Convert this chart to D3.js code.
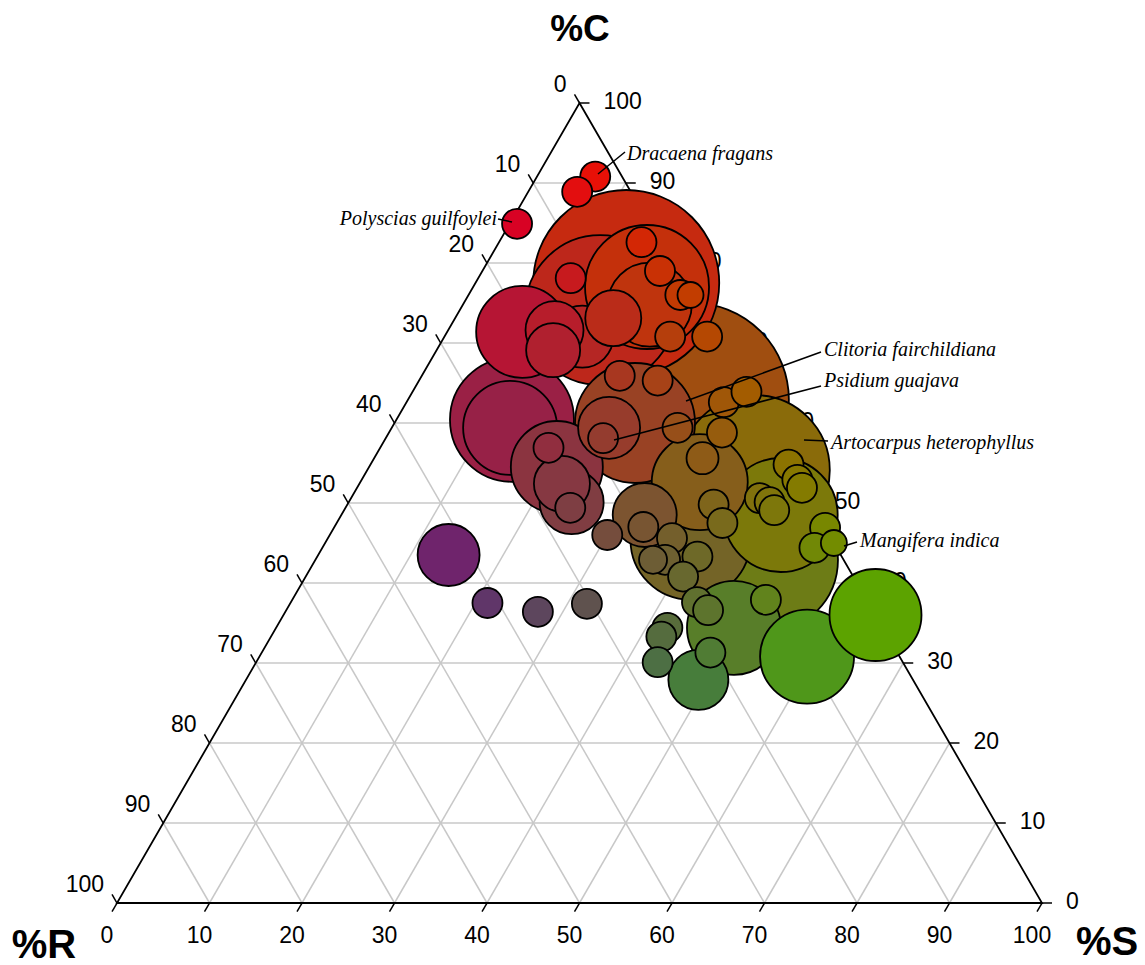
<!DOCTYPE html>
<html>
<head>
<meta charset="utf-8">
<script src="https://cdn.jsdelivr.net/npm/d3@7"></script>
<style>
  body { margin: 0; background: #fff; }
  svg { display: block; }
</style>
</head>
<body>
<div id="ternary"></div>
<script>
// CSR percentages per species (C = competitor, S = stress tolerator, R = ruderal)
const pctC = [90.8, 88.9, 84.9, 77.5, 77.0, 74.1, 74.8, 82.6, 78.1, 79.0, 76.0, 76.0,
  71.4, 71.6, 70.8, 73.1, 69.1, 70.8, 70.8, 62.9, 60.0, 59.4, 58.1, 65.9, 65.3, 59.4,
  62.6, 63.9, 58.8, 55.6, 60.4, 59.4, 56.9, 54.5, 52.4, 50.1, 49.4, 54.1, 52.6, 49.8,
  47.5, 45.4, 48.5, 47.0, 45.6, 43.3, 42.9, 42.9, 40.8, 46.0, 48.5, 42.9, 54.8, 52.9,
  51.9, 50.6, 50.1, 49.1, 46.9, 44.4, 45.0, 43.5, 37.5, 36.4, 37.4, 34.4, 33.3, 30.1,
  27.9, 31.3, 34.4, 37.6, 36.6, 37.9, 30.8, 36.0];
const pctS = [6.3, 5.3, 0.8, 16.3, 18.8, 15.2, 20.2, 15.4, 10.0, 19.2, 22.9, 24.0,
  8.1, 11.5, 14.9, 17.1, 12.6, 24.4, 28.4, 30.7, 26.0, 23.5, 23.5, 21.4, 25.8, 30.9,
  34.3, 36.1, 36.0, 35.5, 12.5, 12.8, 18.2, 20.3, 21.9, 24.1, 24.3, 41.9, 36.7, 39.6,
  41.7, 39.3, 32.8, 33.4, 37.2, 41.1, 37.8, 36.5, 40.8, 30.0, 47.5, 48.6, 45.2, 47.1,
  48.1, 44.2, 45.5, 46.5, 53.1, 53.2, 55.0, 14.1, 21.3, 27.3, 32.1, 42.3, 42.2, 43.4,
  48.9, 48.5, 49.5, 43.9, 45.6, 51.2, 59.2, 64.0];
const pctR = [2.9, 5.8, 14.3, 6.2, 4.2, 10.7, 5.0, 2.0, 11.9, 1.8, 1.1, 0.0,
  20.5, 16.9, 14.3, 9.8, 18.3, 4.8, 0.8, 6.4, 14.0, 17.1, 18.4, 12.7, 8.9, 9.7,
  3.1, 0.0, 5.2, 8.9, 27.1, 27.8, 24.9, 25.2, 25.7, 25.8, 26.3, 4.0, 10.7, 10.6,
  10.8, 15.3, 18.7, 19.6, 17.2, 15.6, 19.3, 20.6, 18.4, 24.0, 4.0, 8.5, 0.0, 0.0,
  0.0, 5.2, 4.4, 4.4, 0.0, 2.4, 0.0, 42.4, 41.2, 36.3, 30.5, 23.3, 24.5, 26.5,
  23.2, 20.2, 16.1, 18.5, 17.8, 10.9, 10.0, 0.0];
// relative abundance (bubble size)
const abundance = [15, 15, 15, 93, 62, 75, 42, 15, 15, 15, 15, 13,
  46, 29, 31, 28, 27, 15, 15, 97, 60, 31, 15, 15, 15, 15,
  15, 15, 15, 16, 62, 47, 15, 46, 28, 32, 15, 75, 48, 15,
  15, 60, 32, 15, 15, 15, 15, 14, 15, 15, 57, 73, 15, 15,
  15, 15, 15, 15, 15, 15, 13, 31, 15, 15, 15, 15, 15, 15,
  30, 15, 47, 15, 15, 15, 47, 46];

const tickValues = [0, 10, 20, 30, 40, 50, 60, 70, 80, 90, 100];

// labelled species: label position and leader end (pixels)
const annotations = [
  { name: "Dracaena fragans", lx: 627, ly: 155, anchor: "start", x1: 625, y1: 152, x2: 598, y2: 174 },
  { name: "Polyscias guilfoylei", lx: 497, ly: 220, anchor: "end", x1: 498, y1: 219, x2: 512, y2: 222 },
  { name: "Clitoria fairchildiana", lx: 824, ly: 351, anchor: "start", x1: 821, y1: 352, x2: 686, y2: 401 },
  { name: "Psidium guajava", lx: 824, ly: 382, anchor: "start", x1: 821, y1: 386, x2: 614, y2: 440 },
  { name: "Artocarpus heterophyllus", lx: 831, ly: 444, anchor: "start", x1: 828, y1: 441, x2: 804, y2: 440 },
  { name: "Mangifera indica", lx: 860, ly: 542, anchor: "start", x1: 857, y1: 542, x2: 844, y2: 546 }
];

const width = 1145, height = 965;

const svg = d3.select("#ternary")
  .append("svg")
  .attr("width", width)
  .attr("height", height)
  .attr("viewBox", [0, 0, width, height]);

// x runs along the base (S + C/2), y goes up with C
const x = d3.scaleLinear().domain([0, 100]).range([117, 1042]);
const y = d3.scaleLinear().domain([0, 100]).range([903, 103]);
const r = d3.scaleLinear().domain([0, 100]).range([0, 100]);

const pos = (c, s) => [x(s + c / 2), y(c)];

// grid
const grid = svg.append("g")
  .attr("stroke", "#c8c8c8")
  .attr("stroke-width", 1.5)
  .attr("fill", "none");

const inner = tickValues.filter(v => v > 0 && v < 100);
inner.forEach(v => {
  const segs = [
    [pos(v, 0), pos(v, 100 - v)],          // constant C
    [pos(0, v), pos(100 - v, v)],          // constant S
    [pos(0, 100 - v), pos(100 - v, 0)]     // constant R
  ];
  segs.forEach(s => {
    grid.append("line")
      .attr("x1", s[0][0]).attr("y1", s[0][1])
      .attr("x2", s[1][0]).attr("y2", s[1][1]);
  });
});

// triangle outline
const corners = [pos(100, 0), pos(0, 100), pos(0, 0)];
svg.append("path")
  .attr("d", d3.line()(corners) + "Z")
  .attr("fill", "none")
  .attr("stroke", "#000")
  .attr("stroke-width", 1.8);

// ticks + labels
const axes = svg.append("g")
  .attr("font-family", "'Liberation Sans', Arial, sans-serif")
  .attr("font-size", 23)
  .attr("fill", "#000");
const tk = 10;

tickValues.forEach(v => {
  // bottom axis (%S)
  let [bx, by] = pos(0, v);
  axes.append("line")
    .attr("x1", bx).attr("y1", by)
    .attr("x2", bx - tk * 0.5).attr("y2", by + tk * 0.866)
    .attr("stroke", "#000").attr("stroke-width", 1.5);
  axes.append("text")
    .attr("x", bx - 10).attr("y", by + 34)
    .attr("text-anchor", "middle")
    .attr("dominant-baseline", "middle")
    .text(v);

  // left axis (%R)
  let [lx, ly] = pos(100 - v, 0);
  axes.append("line")
    .attr("x1", lx).attr("y1", ly)
    .attr("x2", lx - tk * 0.5).attr("y2", ly - tk * 0.866)
    .attr("stroke", "#000").attr("stroke-width", 1.5);
  axes.append("text")
    .attr("x", lx - 13).attr("y", ly - 17)
    .attr("text-anchor", "end")
    .attr("dominant-baseline", "middle")
    .text(v);

  // right axis (%C)
  let [rx, ry] = pos(v, 100 - v);
  axes.append("line")
    .attr("x1", rx).attr("y1", ry)
    .attr("x2", rx + tk).attr("y2", ry)
    .attr("stroke", "#000").attr("stroke-width", 1.5);
  axes.append("text")
    .attr("x", rx + 24).attr("y", ry)
    .attr("text-anchor", "start")
    .attr("dominant-baseline", "middle")
    .text(v);
});

// corner titles
const titles = [
  { t: "%C", x: 580, y: 31, size: 37 },
  { t: "%R", x: 44, y: 947, size: 40 },
  { t: "%S", x: 1107, y: 944, size: 40 }
];
svg.selectAll(".title")
  .data(titles)
  .join("text")
  .attr("class", "title")
  .attr("x", d => d.x)
  .attr("y", d => d.y)
  .attr("text-anchor", "middle")
  .attr("dominant-baseline", "middle")
  .attr("font-family", "'Liberation Sans', Arial, sans-serif")
  .attr("font-weight", "bold")
  .attr("font-size", d => d.size)
  .text(d => d.t);

// bubbles, largest first so the small ones stay visible
const species = pctC.map((c, i) => ({ c: c, s: pctS[i], r: pctR[i], size: abundance[i] }))
  .sort((a, b) => b.size - a.size);

svg.append("g")
  .selectAll("circle")
  .data(species)
  .join("circle")
  .attr("cx", d => pos(d.c, d.s)[0])
  .attr("cy", d => pos(d.c, d.s)[1])
  .attr("r", d => r(d.size))
  .attr("fill", d => d3.rgb(d.c * 2.55, d.s * 2.55, d.r * 2.55))
  .attr("stroke", "#000")
  .attr("stroke-width", 1.8);

// species labels
const ann = svg.append("g");
annotations.forEach(a => {
  ann.append("line")
    .attr("x1", a.x1).attr("y1", a.y1)
    .attr("x2", a.x2).attr("y2", a.y2)
    .attr("stroke", "#000")
    .attr("stroke-width", 1.5);
  ann.append("text")
    .attr("x", a.lx).attr("y", a.ly)
    .attr("text-anchor", a.anchor)
    .attr("dominant-baseline", "middle")
    .attr("font-family", "'Liberation Serif', 'Times New Roman', serif")
    .attr("font-style", "italic")
    .attr("font-size", 20)
    .text(a.name);
});
</script>
</body>
</html>
